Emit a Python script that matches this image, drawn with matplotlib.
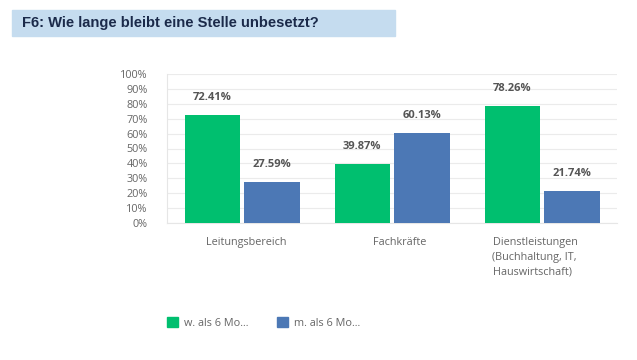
import matplotlib.pyplot as plt
import matplotlib.transforms as mtrans
import numpy as np

plt.rcParams["font.family"] = ["Open Sans", "DejaVu Sans"]

# Data
categories = ["Leitungsbereich", "Fachkräfte", "Dienstleistungen\n(Buchhaltung, IT,\nHauswirtschaft)"]
series_names = ["w. als 6 Mo...", "m. als 6 Mo..."]
w_values = [72.41, 39.87, 78.26]
m_values = [27.59, 60.13, 21.74]

colors = ["#00BF6F", "#4C78B5"]
text_grey = "#666666"

fig = plt.figure(figsize=(6.37, 3.6), dpi=100)

# title banner
fig.patches.append(plt.Rectangle((12 / 637, 1 - 36 / 360), (395 - 12) / 637, 26 / 360,
                                 transform=fig.transFigure, color="#C5DCEF", zorder=0))
fig.text(22 / 637, 1 - 23 / 360, "F6: Wie lange bleibt eine Stelle unbesetzt?",
         fontsize=10.6, fontweight="bold", color="#1B2A4A", va="center",
         family=["Liberation Sans", "DejaVu Sans"])

ax = fig.add_axes([167 / 637, 1 - 223 / 360, 450 / 637, 149 / 360])

x = np.arange(len(categories))
bw = 0.367
for vals, off, c in [(w_values, -0.198, colors[0]), (m_values, 0.2, colors[1])]:
    ax.bar(x + off, vals, width=bw, color=c, zorder=3)
    for xi, v in zip(x + off, vals):
        ax.text(xi, v + 8, f"{v:.2f}%", ha="center", va="bottom", fontsize=8,
                fontweight="bold", color="#555555")

ax.set_xlim(-0.5, 2.5)
ax.set_ylim(0, 100)
ax.set_yticks(range(0, 101, 10))
ax.set_yticklabels([f"{t}%" for t in range(0, 101, 10)])
ax.set_xticks(x)
ax.set_xticklabels(categories, ha="left", va="top", linespacing=1.5, multialignment="left")
ax.tick_params(axis="both", length=0, labelsize=7.8, colors=text_grey)
ax.tick_params(axis="y", pad=14)
ax.tick_params(axis="x", pad=10)
# shift labels so the left-aligned block sits like the original
offsets = [-0.24, -0.13, -0.33]
for lbl, dx in zip(ax.get_xticklabels(), offsets):
    lbl.set_transform(lbl.get_transform() + mtrans.ScaledTranslation(dx * 1.5, 0, fig.dpi_scale_trans))

ax.grid(axis="y", color="#EBEBEB", linewidth=0.8, zorder=0)
for s in ["top", "right"]:
    ax.spines[s].set_visible(False)
ax.spines["left"].set_color("#E6E6E6")
ax.spines["bottom"].set_color("#E6E6E6")

# legend
handles = [plt.Rectangle((0, 0), 1, 1, color=c) for c in colors]
fig.legend(handles, series_names, loc="center left", bbox_to_anchor=(157 / 637, 1 - 323 / 360),
           ncol=2, frameon=False, fontsize=7.8, labelcolor=text_grey, handlelength=1.0,
           handleheight=1.0, columnspacing=2.6, handletextpad=0.6)

fig.savefig("out.png", dpi=100)
